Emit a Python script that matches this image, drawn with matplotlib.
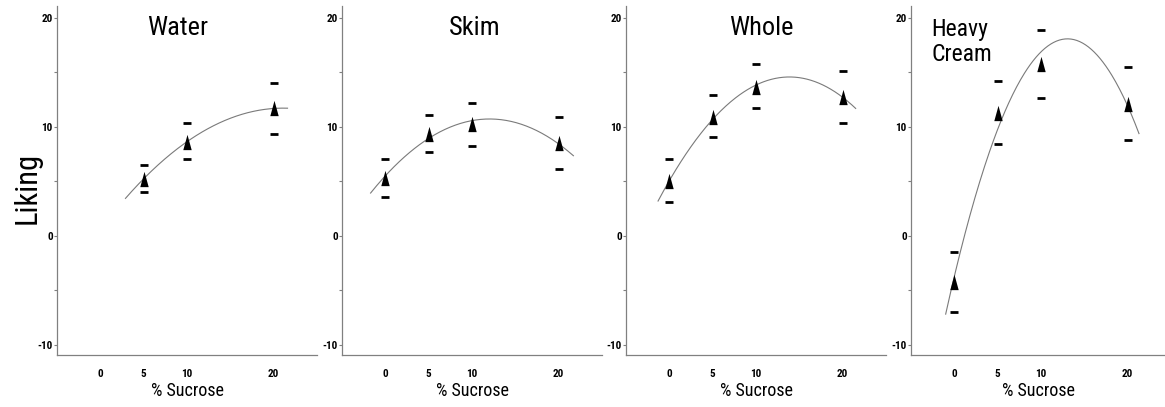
import numpy as np
import matplotlib
matplotlib.use("Agg")
import matplotlib.pyplot as plt
from matplotlib import font_manager
from matplotlib.path import Path

# ---------------- data ----------------
panel_titles = ["Water", "Skim", "Whole", "Heavy\nCream"]

water_x = [5, 10, 20]
water_mean = [5.25, 8.65, 11.7]
water_upper = [6.5, 10.4, 14.0]
water_lower = [4.0, 7.1, 9.4]

skim_x = [0, 5, 10, 20]
skim_mean = [5.35, 9.4, 10.25, 8.5]
skim_upper = [7.1, 11.1, 12.2, 10.9]
skim_lower = [3.6, 7.7, 8.3, 6.1]

whole_x = [0, 5, 10, 20]
whole_mean = [5.0, 10.9, 13.7, 12.75]
whole_upper = [7.1, 12.9, 15.8, 15.1]
whole_lower = [3.1, 9.1, 11.7, 10.4]

cream_x = [0, 5, 10, 20]
cream_mean = [-4.25, 11.25, 15.8, 12.1]
cream_upper = [-1.5, 14.2, 18.9, 15.5]
cream_lower = [-7.0, 8.45, 12.7, 8.8]

# range over which each fitted quadratic is drawn (% sucrose)
curve_ranges = [(2.9, 21.6), (-1.7, 21.7), (-1.3, 21.5), (-1.0, 21.3)]

x_ticks = [0, 5, 10, 20]
x_tick_labels = ["0", "5", "10", "20"]
y_major_ticks = [-10, 0, 10, 20]
y_minor_ticks = [-5, 5, 15]

# ---------------- fonts ----------------
avail = {f.name for f in font_manager.fontManager.ttflist}
main_font = "Liberation Sans"
for cand in ["Liberation Sans Narrow", "Arial Narrow", "Roboto Condensed",
             "Open Sans Condensed", "DejaVu Sans Condensed"]:
    if cand in avail:
        main_font = cand
        break
plt.rcParams["font.family"] = [main_font, "DejaVu Sans"]

W, H = 1165, 407
fig = plt.figure(figsize=(W / 100, H / 100), dpi=100)

axes_left_px = [57, 342, 626, 911]
axes_width_px = [260, 260, 260, 254]
axes_top_px, axes_bottom_px = 6, 355
axes_h_px = axes_bottom_px - axes_top_px
xlims = [(-5, 25), (-5, 25), (-5, 25), (-5, 24.3)]
ylim = (-10.92, 21.1)
title_pos = [(0.465, 28, "center"), (0.51, 28, "center"), (0.52, 28, "center"), (0.08, 42, "left")]
title_sizes = [19, 19, 19, 17]

spine_col = "#808080"
curve_col = "#7a7a7a"
tri = Path([(-0.55, -1.0), (0.55, -1.0), (0.0, 1.0), (-0.55, -1.0)],
           [Path.MOVETO, Path.LINETO, Path.LINETO, Path.CLOSEPOLY])

datasets = [
    (water_x, water_mean, water_upper, water_lower),
    (skim_x, skim_mean, skim_upper, skim_lower),
    (whole_x, whole_mean, whole_upper, whole_lower),
    (cream_x, cream_mean, cream_upper, cream_lower),
]

for i, (xs, mean, up, lo) in enumerate(datasets):
    l = axes_left_px[i] / W
    b = 1 - axes_bottom_px / H
    w = axes_width_px[i] / W
    h = axes_h_px / H
    ax = fig.add_axes([l, b, w, h])
    ax.set_xlim(*xlims[i])
    ax.set_ylim(*ylim)
    for s in ["top", "right"]:
        ax.spines[s].set_visible(False)
    for s in ["left", "bottom"]:
        ax.spines[s].set_color(spine_col)
        ax.spines[s].set_linewidth(0.9)

    # fitted quadratic through the means
    coef = np.polyfit(xs, mean, 2)
    xc = np.linspace(curve_ranges[i][0], curve_ranges[i][1], 200)
    ax.plot(xc, np.polyval(coef, xc), color=curve_col, lw=0.8, zorder=2)

    # error caps
    ax.plot(xs, up, ls="none", marker="_", ms=5.5, mew=2.0, color="black", zorder=3)
    ax.plot(xs, lo, ls="none", marker="_", ms=5.5, mew=2.0, color="black", zorder=3)
    # means
    ax.plot(xs, mean, ls="none", marker=tri, ms=11, color="black", mew=0, zorder=4)

    ax.set_yticks(y_major_ticks)
    ax.set_yticklabels([str(v) for v in y_major_ticks], fontsize=8, fontweight="bold")
    ax.set_yticks(y_minor_ticks, minor=True)
    ax.tick_params(axis="y", which="both", length=2, width=0.8, color=spine_col, pad=1)
    ax.set_xticks(x_ticks)
    ax.set_xticklabels(x_tick_labels, fontsize=8, fontweight="bold")
    ax.tick_params(axis="x", length=0, pad=10)

    tx, ty, ha = title_pos[i]
    ax.text(tx, 1 - (ty - axes_top_px) / axes_h_px, panel_titles[i],
            transform=ax.transAxes, ha=ha, va="center",
            fontsize=title_sizes[i], linespacing=1.1)

    ax.text(0.5, -(391 - axes_bottom_px) / axes_h_px, "% Sucrose",
            transform=ax.transAxes, ha="center", va="center", fontsize=13)

fig.text(27 / W, 1 - 188 / H, "Liking", rotation=90, ha="center", va="center", fontsize=22)

fig.savefig("out.png", dpi=100)
